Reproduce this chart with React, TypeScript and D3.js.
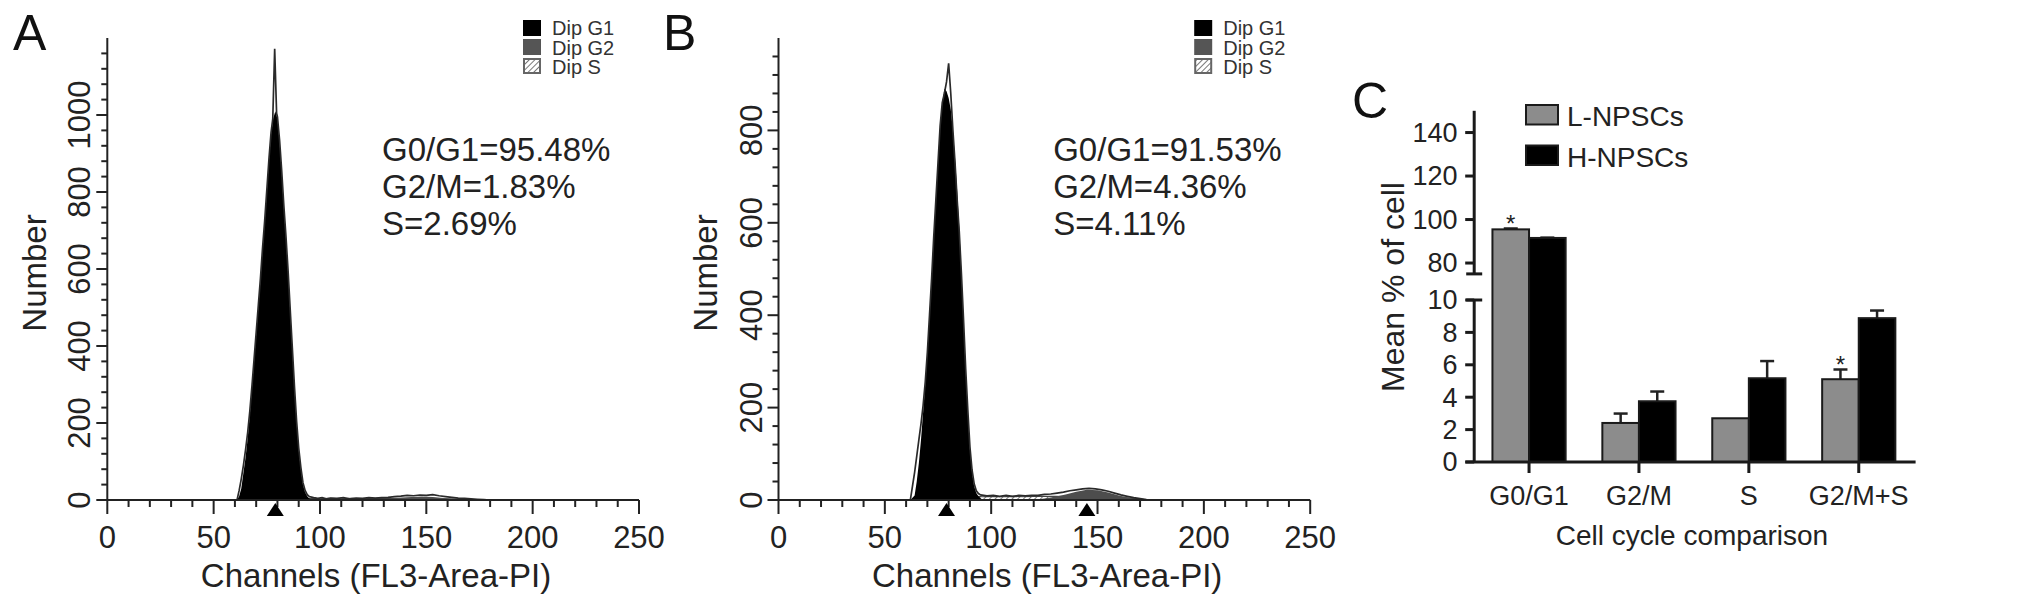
import React from 'react';
import * as d3 from 'd3';

const FONT = "'Liberation Sans', Arial, Helvetica, sans-serif";

// ---------- Panel A (L-NPSCs histogram) ----------
const aG1Ch = [61, 62, 63, 64, 65, 66, 67, 68, 69, 70, 71, 72, 73, 74, 75, 76, 77, 78, 79, 80, 81, 82, 83, 84, 85, 86, 87, 88, 89, 90, 91, 92, 93, 94, 95, 96];
const aG1Val = [0, 10, 30, 70, 110, 160, 220, 290, 360, 430, 500, 570, 650, 720, 800, 880, 950, 990, 1010, 990, 930, 850, 760, 680, 590, 490, 390, 290, 200, 130, 80, 40, 20, 10, 4, 0];
const aSCh = [92, 95, 100, 105, 110, 115, 120, 125, 130, 140, 150, 160, 170, 176];
const aSVal = [0, 4, 3, 4, 3, 4, 3, 4, 4, 4, 4, 3, 2, 0];
const aG2Ch = [128, 133, 138, 143, 148, 153, 158, 163, 168];
const aG2Val = [0, 3, 6, 8, 9, 8, 5, 2, 0];
const aDataCh = [58, 61, 62, 63, 64, 65, 66, 67, 68, 69, 70, 71, 72, 73, 74, 75, 76, 77, 77.8, 78.7, 79.6, 80, 81, 82, 83, 84, 85, 86, 87, 88, 89, 90, 91, 92, 93, 94, 95, 97, 99, 101, 103, 105, 108, 111, 114, 117, 120, 123, 126, 129, 132, 135, 138, 141, 144, 147, 150, 153, 156, 159, 162, 165, 168, 171, 174, 177, 180];
const aDataVal = [0, 0, 25, 55, 90, 130, 175, 230, 295, 365, 435, 505, 575, 655, 725, 805, 885, 955, 990, 1172, 1005, 995, 935, 855, 765, 685, 595, 495, 395, 295, 205, 135, 85, 45, 25, 14, 9, 6, 4, 6, 3, 5, 4, 6, 3, 5, 4, 6, 5, 6, 7, 9, 10, 12, 11, 13, 12, 14, 11, 9, 7, 5, 4, 3, 2, 1, 0];
const aMarkers = [79];
const aStats = ['G0/G1=95.48%', 'G2/M=1.83%', 'S=2.69%'];
const aYTickLabels = [0, 200, 400, 600, 800, 1000];

// ---------- Panel B (H-NPSCs histogram) ----------
const bG1Ch = [62, 64, 65, 66, 67, 68, 69, 70, 71, 72, 73, 74, 75, 76, 77, 78, 79, 80, 81, 82, 83, 84, 85, 86, 87, 88, 89, 90, 91, 92, 93, 94, 96];
const bG1Val = [0, 10, 40, 80, 130, 190, 250, 320, 400, 480, 570, 650, 730, 810, 860, 890, 885, 870, 845, 800, 740, 670, 590, 490, 390, 280, 190, 110, 60, 30, 15, 8, 0];
const bSCh = [90, 93, 96, 100, 105, 110, 115, 120, 125, 130, 140, 150, 160, 168, 174];
const bSVal = [0, 8, 7, 8, 7, 8, 7, 8, 8, 8, 7, 7, 5, 3, 0];
const bG2Ch = [120, 125, 130, 135, 140, 145, 150, 155, 160, 165, 170, 175];
const bG2Val = [0, 3, 7, 12, 18, 22, 21, 16, 10, 5, 2, 0];
const bDataCh = [58, 62, 63, 64, 65, 66, 67, 68, 69, 70, 71, 72, 73, 74, 75, 76, 77, 78, 79, 80, 81, 82, 83, 84, 85, 86, 87, 88, 89, 90, 91, 92, 93, 94, 95, 98, 101, 104, 107, 110, 113, 116, 119, 122, 125, 128, 131, 134, 137, 140, 143, 146, 149, 152, 155, 158, 161, 164, 167, 170, 173, 176];
const bDataVal = [0, 0, 30, 60, 95, 130, 165, 205, 255, 320, 400, 480, 570, 650, 730, 810, 860, 880, 905, 945, 880, 800, 730, 650, 580, 490, 390, 285, 195, 115, 65, 35, 20, 14, 11, 9, 10, 8, 10, 8, 10, 9, 10, 10, 12, 13, 15, 17, 20, 22, 24, 25, 24, 22, 19, 15, 11, 8, 5, 3, 1, 0];
const bMarkers = [79, 145];
const bStats = ['G0/G1=91.53%', 'G2/M=4.36%', 'S=4.11%'];
const bYTickLabels = [0, 200, 400, 600, 800];

const xTickLabels = [0, 50, 100, 150, 200, 250];
const legendLabels = ['Dip G1', 'Dip G2', 'Dip S'];

// ---------- Panel C (bar chart) ----------
const cCategories = ['G0/G1', 'G2/M', 'S', 'G2/M+S'];
const cSeries = ['L-NPSCs', 'H-NPSCs'];
const cLValues = [95.48, 2.41, 2.70, 5.11];
const cLErrors = [0.4, 0.58, 0.0, 0.6];
const cHValues = [91.53, 3.75, 5.17, 8.88];
const cHErrors = [0.15, 0.6, 1.06, 0.47];
const cLStar = [true, false, false, true];
const cUpperTicks = [80, 100, 120, 140];
const cLowerTicks = [0, 2, 4, 6, 8, 10];

type HistProps = {
  ox: number; yMax: number; yLabels: number[];
  g1Ch: number[]; g1Val: number[]; g2Ch: number[]; g2Val: number[];
  sCh: number[]; sVal: number[]; dataCh: number[]; dataVal: number[];
  markers: number[]; stats: string[]; letter: string; letterX: number;
};

function Histogram(p: HistProps) {
  const x = d3.scaleLinear().domain([0, 250]).range([107.3 + p.ox, 639 + p.ox]);
  const y = d3.scaleLinear().domain([0, p.yMax]).range([500, 38]);
  const area = (ch: number[], v: number[]) =>
    d3.area<number>().x((_, i) => x(ch[i])).y0(y(0)).y1((d) => y(d))(v) || '';
  const line = (ch: number[], v: number[]) =>
    d3.line<number>().x((_, i) => x(ch[i])).y((d) => y(d))(v) || '';
  const yTicks = d3.range(0, p.yMax, 40);
  const xTicks = d3.range(0, 251, 10);
  const x0 = x(0);
  const base = y(0);
  return (
    <g>
      <text x={p.letterX} y={50} fontSize={50} fill="#111">{p.letter}</text>
      {/* fills */}
      <path d={area(p.sCh, p.sVal)} fill="url(#hatch)" stroke="#444" strokeWidth={1.2} />
      <path d={area(p.g2Ch, p.g2Val)} fill="#4d4d4d" />
      <path d={area(p.g1Ch, p.g1Val)} fill="#000" />
      <path d={line(p.dataCh, p.dataVal)} fill="none" stroke="#2a2a2a" strokeWidth={1.7} />
      {/* axes */}
      <line x1={x0} x2={x0} y1={base} y2={y(p.yMax)} stroke="#222" strokeWidth={2} />
      <line x1={x0} x2={x(250)} y1={base} y2={base} stroke="#222" strokeWidth={2} />
      {yTicks.map((v) => (
        <line key={'yt' + v} x1={x0} x2={x0 - (v % 200 === 0 ? 11 : 6)} y1={y(v)} y2={y(v)} stroke="#222" strokeWidth={2} />
      ))}
      {xTicks.map((v) => (
        <line key={'xt' + v} x1={x(v)} x2={x(v)} y1={base} y2={base + (v % 50 === 0 ? 14 : 7)} stroke="#222" strokeWidth={2} />
      ))}
      {p.yLabels.map((v) => (
        <text key={'yl' + v} transform={`translate(${x0 - 17},${y(v)}) rotate(-90)`} textAnchor="middle" fontSize={31} fill="#222">{v}</text>
      ))}
      {xTickLabels.map((v) => (
        <text key={'xl' + v} x={x(v)} y={548} textAnchor="middle" fontSize={31} fill="#222">{v}</text>
      ))}
      {p.markers.map((m) => (
        <path key={'m' + m} d={`M${x(m)},${base + 3}L${x(m) + 8.5},${base + 16}L${x(m) - 8.5},${base + 16}Z`} fill="#000" />
      ))}
      <text transform={`translate(${46 + p.ox},273) rotate(-90)`} textAnchor="middle" fontSize={33} fill="#222">Number</text>
      <text x={376 + p.ox} y={587} textAnchor="middle" fontSize={33} fill="#222">Channels (FL3-Area-PI)</text>
      {p.stats.map((s, i) => (
        <text key={'st' + i} x={382 + p.ox} y={161 + i * 37} fontSize={33} fill="#222">{s}</text>
      ))}
      {/* legend */}
      <rect x={523 + p.ox} y={20} width={18} height={16} fill="#000" />
      <rect x={523 + p.ox} y={39} width={18} height={16} fill="#555" />
      <rect x={524 + p.ox} y={59} width={16} height={14} fill="url(#hatch)" stroke="#666" strokeWidth={2} />
      {legendLabels.map((l, i) => (
        <text key={'lg' + i} x={552 + p.ox} y={35 + i * 19.6} fontSize={20} fill="#333">{l}</text>
      ))}
    </g>
  );
}

function BarPanel() {
  const x = d3.scaleBand<string>().domain(cCategories).range([1474.2, 1913.6]).paddingInner(0.334).paddingOuter(0.166);
  const xs = d3.scaleBand<string>().domain(cSeries).range([0, x.bandwidth()]);
  const yU = d3.scaleLinear().domain([75, 150]).range([273.9, 110.8]);
  const yL = d3.scaleLinear().domain([0, 10]).range([462, 300]);
  const yv = (v: number) => (v >= 75 ? yU(v) : yL(v));
  const ax = 1474.2;
  const rows = [
    { s: cSeries[0], vals: cLValues, errs: cLErrors, fill: '#8c8c8c' },
    { s: cSeries[1], vals: cHValues, errs: cHErrors, fill: '#000' },
  ];
  return (
    <g>
      <text x={1352} y={118} fontSize={50} fill="#111">C</text>
      {rows.map((r) =>
        cCategories.map((c, i) => {
          const bx = (x(c) || 0) + (xs(r.s) || 0);
          const w = xs.bandwidth();
          const top = yv(r.vals[i]);
          const et = yv(r.vals[i] + r.errs[i]);
          const cx = bx + w / 2;
          return (
            <g key={r.s + c}>
              {r.errs[i] > 0 && (
                <g stroke="#222" strokeWidth={2.5}>
                  <line x1={cx} x2={cx} y1={top} y2={et} />
                  <line x1={cx - 7} x2={cx + 7} y1={et} y2={et} />
                </g>
              )}
              <rect x={bx} y={top} width={w} height={yL(0) - top} fill={r.fill} stroke="#1a1a1a" strokeWidth={2} />
              {r.s === cSeries[0] && cLStar[i] && (
                <text x={cx} y={et + 4} textAnchor="middle" fontSize={24} fill="#222">*</text>
              )}
            </g>
          );
        })
      )}
      {/* y axis with break */}
      <g stroke="#1a1a1a" strokeWidth={3}>
        <line x1={ax} x2={ax} y1={yU(150)} y2={yU(75)} />
        <line x1={ax - 8} x2={ax + 8} y1={yU(75)} y2={yU(75)} />
        <line x1={ax} x2={ax} y1={yL(10)} y2={yL(0)} />
        <line x1={ax - 8} x2={ax + 8} y1={yL(10)} y2={yL(10)} />
        {cUpperTicks.map((t) => <line key={'u' + t} x1={ax - 9} x2={ax} y1={yU(t)} y2={yU(t)} />)}
        {cLowerTicks.map((t) => <line key={'l' + t} x1={ax - 9} x2={ax} y1={yL(t)} y2={yL(t)} />)}
        <line x1={1465.5} x2={1915.6} y1={yL(0)} y2={yL(0)} />
        {cCategories.map((c) => {
          const cx = (x(c) || 0) + x.bandwidth() / 2;
          return <line key={'ct' + c} x1={cx} x2={cx} y1={yL(0)} y2={yL(0) + 11} />;
        })}
      </g>
      {cUpperTicks.map((t) => (
        <text key={'ut' + t} x={1457.5} y={yU(t)} dy="0.35em" textAnchor="end" fontSize={27} fill="#222">{t}</text>
      ))}
      {cLowerTicks.map((t) => (
        <text key={'lt' + t} x={1457.5} y={yL(t)} dy="0.35em" textAnchor="end" fontSize={27} fill="#222">{t}</text>
      ))}
      {cCategories.map((c) => (
        <text key={'cl' + c} x={(x(c) || 0) + x.bandwidth() / 2} y={505} textAnchor="middle" fontSize={27} fill="#222">{c}</text>
      ))}
      <text x={1692} y={545} textAnchor="middle" fontSize={28} fill="#222">Cell cycle comparison</text>
      <text transform="translate(1404,287) rotate(-90)" textAnchor="middle" fontSize={32} fill="#222">Mean % of cell</text>
      {/* legend */}
      {rows.map((r, i) => (
        <g key={'leg' + i}>
          <rect x={1526} y={105 + i * 40.5} width={32} height={19.5} fill={r.fill} stroke="#1a1a1a" strokeWidth={2} />
          <text x={1567} y={126 + i * 40.5} fontSize={28} fill="#222">{r.s}</text>
        </g>
      ))}
    </g>
  );
}

export default function App() {
  return (
    <svg width={2032} height={607} style={{ position: 'absolute', left: 0, top: 0, background: '#fff' }} fontFamily={FONT}>
      <defs>
        <pattern id="hatch" width="4" height="4" patternUnits="userSpaceOnUse" patternTransform="rotate(45)">
          <rect width="4" height="4" fill="#fff" />
          <line x1="0" y1="0" x2="0" y2="4" stroke="#555" strokeWidth="1.6" />
        </pattern>
      </defs>
      <rect width={2032} height={607} fill="#fff" />
      <Histogram ox={0} yMax={1200} yLabels={aYTickLabels} g1Ch={aG1Ch} g1Val={aG1Val} g2Ch={aG2Ch} g2Val={aG2Val}
        sCh={aSCh} sVal={aSVal} dataCh={aDataCh} dataVal={aDataVal} markers={aMarkers} stats={aStats} letter="A" letterX={13} />
      <Histogram ox={671.2} yMax={1000} yLabels={bYTickLabels} g1Ch={bG1Ch} g1Val={bG1Val} g2Ch={bG2Ch} g2Val={bG2Val}
        sCh={bSCh} sVal={bSVal} dataCh={bDataCh} dataVal={bDataVal} markers={bMarkers} stats={bStats} letter="B" letterX={663} />
      <BarPanel />
    </svg>
  );
}
